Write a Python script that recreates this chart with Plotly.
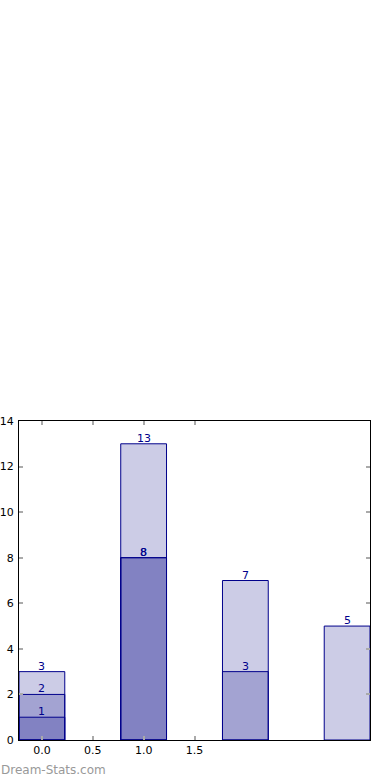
import plotly.graph_objects as go

positions = [0, 1, 2, 3]
series_a = [3, 13, 7, 5]
series_b = [2, 8, 3, None]
series_c = [1, 8, None, None]
xtick_vals = [0.0, 0.5, 1.0, 1.5]
xtick_text = ["0.0", "0.5", "1.0", "1.5"]
ytick_vals = [0, 2, 4, 6, 8, 10, 12, 14]

fill = "rgba(0,0,128,0.2)"
edge = "#00008B"

fig = go.Figure()
annotations = []
for vals in (series_a, series_b, series_c):
    fig.add_trace(go.Bar(
        x=positions, y=vals, width=0.45,
        marker=dict(color=fill, line=dict(color=edge, width=1)),
        showlegend=False, hoverinfo="skip",
    ))
    for xp, v in zip(positions, vals):
        if v is None:
            continue
        annotations.append(dict(
            x=xp, y=v, xref="x", yref="y", text=str(v), showarrow=False,
            xanchor="center", yanchor="bottom", yshift=-3,
            font=dict(family="DejaVu Sans", size=11, color="#00008B"),
        ))

axis_common = dict(
    showgrid=False, zeroline=False, showline=True, linecolor="black", linewidth=1,
    ticks="inside", ticklen=4, tickcolor="#aaaaaa", tickwidth=2, mirror="ticks",
    tickfont=dict(family="DejaVu Sans", size=11, color="black"), automargin=False,
)
fig.update_xaxes(range=[-0.225, 3.225], tickvals=xtick_vals, ticktext=xtick_text, **axis_common)
fig.update_yaxes(range=[0, 14], tickvals=ytick_vals, ticklabelstandoff=2, **axis_common)

annotations.append(dict(
    text="Dream-Stats.com", xref="paper", yref="paper", x=-0.056, y=-0.094,
    xanchor="left", yanchor="middle", showarrow=False,
    font=dict(family="DejaVu Sans", size=12, color="#999999"),
))

fig.update_layout(
    width=390, height=780, barmode="overlay",
    margin=dict(l=19, r=20, t=421, b=40),
    plot_bgcolor="white", paper_bgcolor="white",
    font=dict(family="DejaVu Sans"),
    annotations=annotations,
)

fig.write_html("out.html")
